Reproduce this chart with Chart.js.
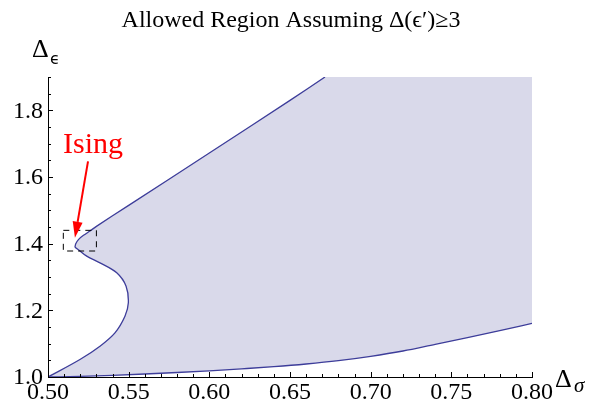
<!DOCTYPE html>
<html lang="en">
<head>
    <meta charset="UTF-8">
    <title>Allowed Region</title>
    <style>
        html, body { margin: 0; padding: 0; background: #fff; }
        .chart-container { width: 600px; height: 409px; position: relative; }
    </style>
    <script src="https://cdn.jsdelivr.net/npm/chart.js@4/dist/chart.umd.min.js"></script>
</head>
<body>
    <div class="chart-container">
        <canvas id="region-chart"></canvas>
    </div>
    <script>
    // upper boundary: from the Ising kink up to the top of the plot
    const upperX = [0.5167, 0.5172, 0.519, 0.522, 0.526, 0.530, 0.550, 0.600, 0.650, 0.6717];
    const upperY = [1.389, 1.400, 1.413, 1.425, 1.438, 1.452, 1.515, 1.672, 1.830, 1.900];

    // left "nose": from the kink down to (0.5, 1.0)
    const noseX = [0.5167, 0.5188, 0.524, 0.5322, 0.5426, 0.5484, 0.5498, 0.5477, 0.5415, 0.5322, 0.5198, 0.500];
    const noseY = [1.389, 1.382, 1.3625, 1.3425, 1.3125, 1.2725, 1.2225, 1.1825, 1.1325, 1.0925, 1.0525, 1.000];

    // lower boundary, left to right
    const lowerX = [0.50, 0.52, 0.54, 0.56, 0.58, 0.60, 0.62, 0.64, 0.66, 0.68, 0.70, 0.72, 0.74, 0.76, 0.78, 0.80];
    const lowerY = [1.000, 1.002, 1.005, 1.009, 1.0135, 1.0185, 1.0245, 1.031, 1.039, 1.049, 1.062, 1.078, 1.098, 1.118, 1.139, 1.161];

    // corner of the plot range that closes the shaded region
    const cornerX = [0.80, 0.80];
    const cornerY = [1.90, 1.90];

    // Ising annotation (data units)
    const isingBoxX = [0.5095, 0.530];
    const isingBoxY = [1.378, 1.440];
    const isingArrowX = [0.5248, 0.5167];
    const isingArrowY = [1.647, 1.418];
    const isingLabel = {text: 'Ising', x: 0.5093, y: 1.673};

    const xTicksMajor = [0.50, 0.55, 0.60, 0.65, 0.70, 0.75, 0.80];
    const yTicksMajor = [1.0, 1.2, 1.4, 1.6, 1.8];

    function toPts(xs, ys) {
        return xs.map((x, i) => ({x: x, y: ys[i]}));
    }

    const upperPts = toPts(upperX, upperY);
    const nosePts = toPts(noseX, noseY);
    const lowerPts = toPts(lowerX, lowerY);

    // closed polygon for the fill
    const regionPts = []
        .concat(upperPts)
        .concat(toPts(cornerX, cornerY))
        .concat(lowerPts.slice().reverse())
        .concat(nosePts.slice().reverse());

    const lineColor = '#3d3d9a';
    const fillColor = '#d9d9ea';
    const serif = "'Liberation Serif', 'Times New Roman', serif";

    // ticks drawn inside the frame, tick labels, title / axis labels / Ising mark
    const decorations = {
        id: 'decorations',
        afterDatasetsDraw(chart) {
            const ctx = chart.ctx;
            const xs = chart.scales.x, ys = chart.scales.y;
            ctx.save();

            // Ising dashed box
            ctx.strokeStyle = '#000';
            ctx.lineWidth = 1;
            ctx.setLineDash([6, 5]);
            const bx0 = xs.getPixelForValue(isingBoxX[0]), bx1 = xs.getPixelForValue(isingBoxX[1]);
            const by0 = ys.getPixelForValue(isingBoxY[1]), by1 = ys.getPixelForValue(isingBoxY[0]);
            ctx.strokeRect(bx0, by0, bx1 - bx0, by1 - by0);
            ctx.setLineDash([]);

            // arrow
            const ax0 = xs.getPixelForValue(isingArrowX[0]), ay0 = ys.getPixelForValue(isingArrowY[0]);
            const ax1 = xs.getPixelForValue(isingArrowX[1]), ay1 = ys.getPixelForValue(isingArrowY[1]);
            const ang = Math.atan2(ay1 - ay0, ax1 - ax0);
            const headLen = 16, headW = 5;
            ctx.strokeStyle = '#ff0000';
            ctx.fillStyle = '#ff0000';
            ctx.lineWidth = 2;
            ctx.beginPath();
            ctx.moveTo(ax0, ay0);
            ctx.lineTo(ax1 - Math.cos(ang) * headLen, ay1 - Math.sin(ang) * headLen);
            ctx.stroke();
            ctx.beginPath();
            ctx.moveTo(ax1, ay1);
            ctx.lineTo(ax1 - Math.cos(ang) * headLen - Math.sin(ang) * headW, ay1 - Math.sin(ang) * headLen + Math.cos(ang) * headW);
            ctx.lineTo(ax1 - Math.cos(ang) * headLen + Math.sin(ang) * headW, ay1 - Math.sin(ang) * headLen - Math.cos(ang) * headW);
            ctx.closePath();
            ctx.fill();

            // label
            ctx.font = '30px ' + serif;
            ctx.textAlign = 'left';
            ctx.textBaseline = 'alphabetic';
            ctx.fillText(isingLabel.text, xs.getPixelForValue(isingLabel.x), ys.getPixelForValue(isingLabel.y));

            ctx.restore();
        },
        afterDraw(chart) {
            const ctx = chart.ctx;
            const xs = chart.scales.x, ys = chart.scales.y;
            const area = chart.chartArea;
            ctx.save();
            ctx.strokeStyle = '#000';
            ctx.lineWidth = 1;

            // inner ticks, x axis
            for (let i = 0; i <= 30; i++) {
                const v = 0.5 + i * 0.01;
                const px = Math.round(xs.getPixelForValue(v)) + 0.5;
                const len = (i % 5 === 0) ? 5 : 3;
                ctx.beginPath();
                ctx.moveTo(px, area.bottom);
                ctx.lineTo(px, area.bottom - len);
                ctx.stroke();
            }
            // inner ticks, y axis
            for (let i = 0; i <= 18; i++) {
                const v = 1.0 + i * 0.05;
                const py = Math.round(ys.getPixelForValue(v)) + 0.5;
                const len = (i % 4 === 0) ? 5 : 3;
                ctx.beginPath();
                ctx.moveTo(area.left, py);
                ctx.lineTo(area.left + len, py);
                ctx.stroke();
            }

            // tick labels
            ctx.fillStyle = '#000';
            ctx.font = '24px ' + serif;
            ctx.textAlign = 'center';
            ctx.textBaseline = 'top';
            xs.ticks.forEach(t => {
                ctx.fillText(t.value.toFixed(2), xs.getPixelForValue(t.value), area.bottom + 4);
            });
            ctx.textAlign = 'right';
            ctx.textBaseline = 'middle';
            ys.ticks.forEach(t => {
                ctx.fillText(t.value.toFixed(1), area.left - 5, ys.getPixelForValue(t.value) + 1);
            });

            // title
            ctx.font = '24px ' + serif;
            ctx.textAlign = 'center';
            ctx.textBaseline = 'alphabetic';
            ctx.fillText('Allowed Region Assuming \u0394(\u03f5\u2032)\u22653', 291, 27);

            // axis labels
            ctx.textAlign = 'left';
            ctx.font = '26px ' + serif;
            ctx.fillText('\u0394', 32, 57);
            ctx.font = "16px 'DejaVu Sans', sans-serif";
            ctx.fillText('\u03f5', 50, 64);

            ctx.font = '26px ' + serif;
            ctx.fillText('\u0394', 555, 387);
            ctx.font = 'italic 21px ' + serif;
            ctx.fillText('\u03c3', 574, 392);

            ctx.restore();
        }
    };

    new Chart('region-chart', {
        type: 'scatter',
        data: {
            datasets: [
                {
                    label: 'upper',
                    data: upperPts,
                    showLine: true,
                    borderColor: lineColor,
                    borderWidth: 1.3,
                    pointRadius: 0,
                    tension: 0.2,
                    fill: false,
                    order: 1
                },
                {
                    label: 'nose',
                    data: nosePts,
                    showLine: true,
                    borderColor: lineColor,
                    borderWidth: 1.3,
                    pointRadius: 0,
                    tension: 0.35,
                    fill: false,
                    order: 1
                },
                {
                    label: 'lower',
                    data: lowerPts,
                    showLine: true,
                    borderColor: lineColor,
                    borderWidth: 1.3,
                    pointRadius: 0,
                    cubicInterpolationMode: 'monotone',
                    fill: false,
                    order: 1
                },
                {
                    label: 'region',
                    data: regionPts,
                    showLine: true,
                    borderWidth: 0,
                    borderColor: 'rgba(0,0,0,0)',
                    backgroundColor: fillColor,
                    pointRadius: 0,
                    tension: 0,
                    fill: 'shape',
                    order: 2
                }
            ]
        },
        options: {
            responsive: true,
            maintainAspectRatio: false,
            animation: false,
            layout: {
                padding: {top: 77, right: 68, left: 0, bottom: 0}
            },
            plugins: {
                legend: {display: false},
                title: {display: false},
                tooltip: {enabled: false}
            },
            scales: {
                x: {
                    type: 'linear',
                    min: 0.5,
                    max: 0.8,
                    afterFit: (s) => { s.height = 32; },
                    afterBuildTicks: (s) => { s.ticks = xTicksMajor.map(v => ({value: v})); },
                    grid: {display: true, drawOnChartArea: false, drawTicks: false},
                    border: {display: true, color: '#000', width: 1},
                    ticks: {display: false}
                },
                y: {
                    type: 'linear',
                    min: 1.0,
                    max: 1.9,
                    afterFit: (s) => { s.width = 48; },
                    afterBuildTicks: (s) => { s.ticks = yTicksMajor.map(v => ({value: v})); },
                    grid: {display: true, drawOnChartArea: false, drawTicks: false},
                    border: {display: true, color: '#000', width: 1},
                    ticks: {display: false}
                }
            }
        },
        plugins: [decorations]
    });
    </script>
</body>
</html>
